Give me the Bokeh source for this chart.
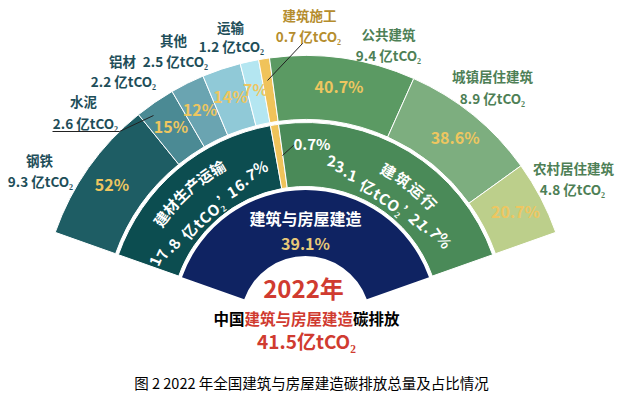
import math
from bokeh.plotting import figure
from bokeh.models import Range1d, ColumnDataSource
from bokeh.core.properties import value
from bokeh.embed import file_html
from bokeh.resources import INLINE

# ---------------- data ----------------
year_label = "2022年"
total_value = 41.5
total_share = "39.1%"
core_name = "建筑与房屋建造"

group_names = ["建材生产运输", "建筑施工", "建筑运行"]
group_values = [17.8, 0.7, 23.1]
group_shares = ["16.7%", "0.7%", "21.7%"]

outer_names = ["钢铁", "水泥", "铝材", "其他", "运输", "建筑施工",
               "公共建筑", "城镇居住建筑", "农村居住建筑"]
outer_values = [9.3, 2.6, 2.2, 2.5, 1.2, 0.7, 9.4, 8.9, 4.8]
outer_pct = ["52%", "15%", "12%", "14%", "7%", "",
             "40.7%", "38.6%", "20.7%"]

caption = "图 2 2022 年全国建筑与房屋建造碳排放总量及占比情况"

# ---------------- styles / layout ----------------
W, H = 621, 395
FONT = value("Noto Sans CJK SC")


def Y(yp):
    return H - yp


CX, CY = 305, Y(320.5)
FAN_LO, FAN_HI = 19.5, 160.5
R_HOLE, R_CORE = 65, 131
R_MID_IN, R_MID_OUT = 134.5, 198.5
R_OUT_IN, R_OUT_OUT = 201.5, 265.5

navy = "#0f2362"
group_colors = ["#0c4d50", "#f0c35a", "#4a8a58"]
outer_colors = ["#1e5d64", "#4b8a94", "#6aa4b1", "#90c9d7", "#b4e6f1",
                "#f0c35a", "#5b9a63", "#7dae7f", "#bccf8b"]
gold = "#eec660"
red = "#d03b30"
label_colors = ["#1e4e59"] * 5 + ["#b58d2e"] + ["#4e7f56"] * 3

p = figure(width=W, height=H, output_backend="svg", toolbar_location=None,
           x_range=Range1d(0, W), y_range=Range1d(0, H),
           x_axis_type=None, y_axis_type=None, min_border=0)
p.outline_line_color = None
p.grid.visible = False
p.background_fill_color = "white"
p.border_fill_color = "white"

span = FAN_HI - FAN_LO
rad = math.radians


def wedges(vals, cols, rin, rout):
    tot = sum(vals)
    starts, ends = [], []
    a = FAN_HI
    for v in vals:
        b = a - v / tot * span
        starts.append(b)
        ends.append(a)
        a = b
    src = ColumnDataSource(dict(s=[rad(v) for v in starts],
                                e=[rad(v) for v in ends], c=cols))
    p.annular_wedge(x=CX, y=CY, inner_radius=rin, outer_radius=rout,
                    start_angle="s", end_angle="e",
                    fill_color="c", line_color="white", line_width=1, source=src)
    return starts, ends


# core ring
p.annular_wedge(x=CX, y=CY, inner_radius=R_HOLE, outer_radius=R_CORE,
                start_angle=rad(FAN_LO), end_angle=rad(FAN_HI),
                fill_color=navy, line_color=None)
# middle ring
wedges(group_values, group_colors, R_MID_IN, R_MID_OUT)
# outer ring
os_, oe_ = wedges(outer_values, outer_colors, R_OUT_IN, R_OUT_OUT)

# percent labels in outer ring
px, py, pt = [], [], []
for s, e, t in zip(os_, oe_, outer_pct):
    if not t:
        continue
    m = math.radians((s + e) / 2)
    px.append(CX + 237 * math.cos(m))
    py.append(CY + 237 * math.sin(m))
    pt.append(t)
p.text(x=px, y=py, text=pt, text_font=FONT, text_font_size="16px",
       text_font_style="bold", text_color=gold, text_align="center",
       text_baseline="middle")


# curved text helper
def char_w(c, fs):
    if c == "’":
        return 0.4 * fs
    if ord(c) > 0x2E80:
        return fs
    tbl = {".": 0.27, " ": 0.25, "t": 0.36, "C": 0.6, "O": 0.68, "₂": 0.36,
           "%": 0.82}
    return tbl.get(c, 0.55) * fs


def arc_text(txt, r, center_deg, fs, extra, color, flat=False):
    widths = [char_w(c, fs) + extra for c in txt]
    L = sum(widths)
    s = -L / 2
    tm = math.radians(center_deg)
    xs, ys, angs, chars = [], [], [], []
    for c, w in zip(txt, widths):
        mid = s + w / 2
        s += w
        if c == " ":
            continue
        if flat:
            dx = r * math.cos(tm) + mid * math.sin(tm)
            dy = r * math.sin(tm) - mid * math.cos(tm)
            th = math.atan2(dy, dx)
        else:
            th = tm - mid / r
            dx, dy = r * math.cos(th), r * math.sin(th)
        xs.append(CX + dx)
        ys.append(CY + dy)
        angs.append(th - math.pi / 2)
        chars.append(c)
    p.text(x=xs, y=ys, text=chars, angle=angs, text_font=FONT,
           text_font_size=f"{fs}px", text_font_style="bold", text_color=color,
           text_align="center", text_baseline="middle")


def fmt(v):
    return f"{v:g}"


arc_text(group_names[0], 177, 132.3, 15, 0.3, "white")
arc_text(f"{fmt(group_values[0])} 亿tCO₂’{group_shares[0]}", 145, 132, 15, 1.8, "white", flat=True)
arc_text(group_names[2], 172, 52.5, 15, 2.2, "white")
arc_text(f"{fmt(group_values[2])} 亿tCO₂’{group_shares[2]}", 146, 55, 15, 1.6, "white", flat=True)

# 0.7% with leader
p.line(x=[282, 294], y=[Y(155), Y(144)], line_color="#222222", line_width=1)
p.text(x=[293], y=[Y(143)], text=[group_shares[1]], text_font=FONT,
       text_font_size="15px", text_font_style="bold", text_color="white",
       text_align="left", text_baseline="middle")

# core text
p.text(x=[305], y=[Y(217)], text=[core_name], text_font=FONT,
       text_font_size="16px", text_font_style="bold", text_color="white",
       text_align="center", text_baseline="middle")
p.text(x=[305], y=[Y(242)], text=[total_share], text_font=FONT,
       text_font_size="16px", text_font_style="bold", text_color="#e8c878",
       text_align="center", text_baseline="middle")

# centre titles
p.text(x=[303], y=[Y(287)], text=[year_label], text_font=FONT,
       text_font_size="24px", text_font_style="bold", text_color=red,
       text_align="center", text_baseline="middle")
fs2 = 15.5
parts = [("中国", "black"), (core_name, red), ("碳排放", "black")]
ncha = sum(len(t) for t, _ in parts)
x0 = 306 - ncha * fs2 / 2
for t, col in parts:
    p.text(x=[x0], y=[Y(317)], text=[t], text_font=FONT,
           text_font_size=f"{fs2}px", text_font_style="bold", text_color=col,
           text_align="left", text_baseline="middle")
    x0 += len(t) * fs2
p.text(x=[306], y=[Y(340)], text=[f"{total_value}亿tCO₂"], text_font=FONT,
       text_font_size="19px", text_font_style="bold", text_color=red,
       text_align="center", text_baseline="middle")

# outer labels (name line, value line)
name_pos = [(39, 159), (83, 100), (122, 60), (173, 39), (230, 26), (309, 14),
            (388, 33), (492, 75), (573, 167)]
val_pos = [(40, 180), (85, 122), (123, 80), (175, 60), (231, 45), (308, 35),
           (388, 54), (492, 97), (572, 188)]
for i, nm in enumerate(outer_names):
    for (xx, yy), t in ((name_pos[i], nm), (val_pos[i], f"{fmt(outer_values[i])} 亿tCO₂")):
        p.text(x=[xx], y=[Y(yy)], text=[t], text_font=FONT,
               text_font_size="13.5px", text_font_style="bold",
               text_color=label_colors[i], text_align="center",
               text_baseline="middle")

# leaders
p.line(x=[52, 119, 153], y=[Y(131), Y(131), Y(115)], line_color="#222222", line_width=1)
p.line(x=[267, 302], y=[Y(80), Y(43)], line_color="#222222", line_width=1)

# caption
p.text(x=[311], y=[Y(382)], text=[caption], text_font=FONT,
       text_font_size="14.5px", text_color="black", text_align="center",
       text_baseline="middle")

open("out.html", "w").write(file_html(p, INLINE))
